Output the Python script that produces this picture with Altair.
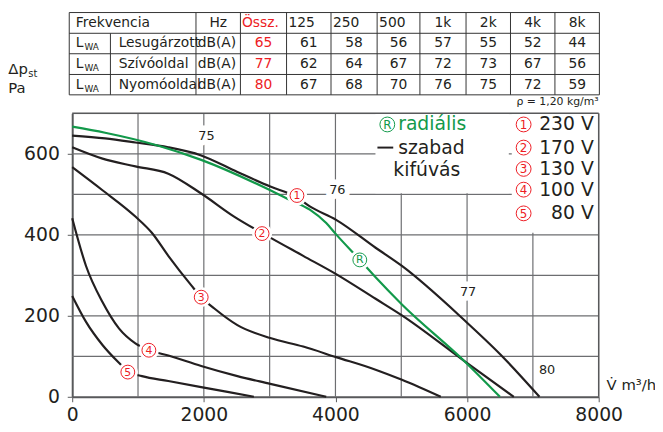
import altair as alt
import pandas as pd

FONT = "DejaVu Sans"
INK = "#231f20"
RED = "#ed1c24"
GREEN = "#12994a"
GRID = "#6d6e71"
AXIS = "#58595b"

# ---------------- data ----------------
freq_labels = ["125", "250", "500", "1k", "2k", "4k", "8k"]
row_names = ["Lesugárzott", "Szívóoldal", "Nyomóoldal"]
row_total = [65, 77, 80]
lw_lesugarzott = [61, 58, 56, 57, 55, 52, 44]
lw_szivooldal = [62, 64, 67, 72, 73, 67, 56]
lw_nyomooldal = [67, 68, 70, 76, 75, 72, 59]

c230_x = [0, 500, 960, 1460, 1960, 2510, 3010, 3400, 3610, 4010, 4610, 5010, 5960, 6510, 7100]
c230_y = [645, 638, 628, 616, 596, 555, 519, 494, 470, 437, 368, 323, 189, 104, 0]
c170_x = [0, 460, 960, 1460, 1960, 2460, 3010, 3510, 4010, 4610, 5010, 5960, 6710]
c170_y = [616, 588, 569, 551, 502, 445, 393, 348, 303, 242, 201, 88, 0]
c130_x = [0, 460, 960, 1210, 1460, 1810, 1960, 2160, 2510, 3010, 3510, 4010, 4610, 5010, 5600]
c130_y = [567, 510, 445, 405, 348, 275, 246, 218, 177, 145, 124, 98, 67, 42, 0]
c100_x = [0, 210, 460, 710, 960, 1170, 1460, 1960, 2510, 3010, 3860]
c100_y = [441, 323, 234, 169, 132, 115, 102, 76, 51, 32, 0]
c80_x = [0, 210, 460, 710, 845, 1060, 1460, 1960, 2760]
c80_y = [249, 185, 128, 84, 63, 51, 39, 24, 0]
rad_x = [0, 500, 1310, 1960, 3010, 3310, 3610, 3860, 4010, 4370, 4610, 5010, 5960, 6500]
rad_y = [667, 652, 620, 585, 510, 486, 462, 429, 401, 338, 295, 228, 88, 0]

curve_keys = ["230", "170", "130", "100", "80", "R"]
voltage_labels = ["230 V", "170 V", "130 V", "100 V", "80 V"]
circle_digits = ["1", "2", "3", "4", "5"]
circle_x = [3415, 2885, 1960, 1165, 845]
circle_y = [497, 403, 246, 115, 61]
rad_mark_x = [4370]
rad_mark_y = [338]

iso_labels = ["75", "76", "77", "80"]
iso_x = [2040, 4028, 6015, 7215]
iso_y = [643, 510, 259, 67]

x_ticks = [0, 2000, 4000, 6000, 8000]
y_ticks = [0, 200, 400, 600]
x_grid = [1000, 2000, 3000, 4000, 5000, 6000, 7000]
y_grid = [100, 200, 300, 400, 500, 600]

# ---------------- plot (data units) ----------------
W, H = 533, 287
xs = alt.Scale(domain=[0, 8000], nice=False, zero=False)
ys = alt.Scale(domain=[0, 700], nice=False, zero=False)
xaxis = alt.Axis(values=x_ticks, title=None, grid=False, labelFont=FONT, labelFontSize=19,
                 labelColor=INK, tickSize=5, tickColor=AXIS, domainColor=AXIS, domainWidth=2,
                 labelPadding=4, labelFlush=False, labelOverlap=False, format="d")
yaxis = alt.Axis(values=y_ticks, title=None, grid=False, labelFont=FONT, labelFontSize=19,
                 labelColor=INK, tickSize=5, tickColor=AXIS, domainColor=AXIS, domainWidth=2,
                 labelPadding=8, labelOverlap=False, format="d")
X = alt.X("x:Q", scale=xs, axis=xaxis)
Y = alt.Y("y:Q", scale=ys, axis=yaxis)

gv = pd.DataFrame({"x": x_grid, "y": [0] * len(x_grid), "y2": [700] * len(x_grid)})
gh = pd.DataFrame({"y": y_grid, "x": [0] * len(y_grid), "x2": [8000] * len(y_grid)})
grid_v = alt.Chart(gv).mark_rule(color=GRID, strokeWidth=1.2).encode(x=X, y=Y, y2="y2:Q")
grid_h = alt.Chart(gh).mark_rule(color=GRID, strokeWidth=1.2).encode(y=Y, x=X, x2="x2:Q")

rows = []
for key, xx, yy in zip(curve_keys,
                       [c230_x, c170_x, c130_x, c100_x, c80_x, rad_x],
                       [c230_y, c170_y, c130_y, c100_y, c80_y, rad_y]):
    for i, (a, b) in enumerate(zip(xx, yy)):
        rows.append({"x": a, "y": b, "k": key, "o": i})
curves_df = pd.DataFrame(rows)
curves = alt.Chart(curves_df).mark_line(interpolate="monotone", strokeWidth=2.2).encode(
    x=X, y=Y, detail="k:N", order="o:Q",
    color=alt.Color("k:N", scale=alt.Scale(domain=curve_keys,
                                            range=[INK, INK, INK, INK, INK, GREEN]), legend=None))

iso_df = pd.DataFrame({"x": iso_x, "y": iso_y, "t": iso_labels})
iso_halo = alt.Chart(iso_df).mark_text(font=FONT, fontSize=13, color="white", stroke="white",
                                       strokeWidth=11, strokeJoin="round").encode(x=X, y=Y, text="t:N")
iso_text = alt.Chart(iso_df).mark_text(font=FONT, fontSize=13, color=INK).encode(x=X, y=Y, text="t:N")

cm_df = pd.DataFrame({"x": circle_x, "y": circle_y, "t": circle_digits})
rm_df = pd.DataFrame({"x": rad_mark_x, "y": rad_mark_y, "t": ["R"]})
cm_halo = alt.Chart(pd.concat([cm_df, rm_df])).mark_point(shape="circle", filled=True, color="white",
                                                          opacity=1, size=420).encode(x=X, y=Y)
cm_ring = alt.Chart(cm_df).mark_point(shape="circle", fill="white", stroke=RED, strokeWidth=1,
                                      size=196, opacity=1, fillOpacity=1).encode(x=X, y=Y)
cm_text = alt.Chart(cm_df).mark_text(font=FONT, fontSize=11, color=RED, baseline="middle",
                                     dy=0.5).encode(x=X, y=Y, text="t:N")
rm_ring = alt.Chart(rm_df).mark_point(shape="circle", fill="white", stroke=GREEN, strokeWidth=1,
                                      size=196, opacity=1, fillOpacity=1).encode(x=X, y=Y)
rm_text = alt.Chart(rm_df).mark_text(font=FONT, fontSize=11, color=GREEN, baseline="middle",
                                     dy=0.5).encode(x=X, y=Y, text="t:N")

plot = alt.layer(grid_v, grid_h, iso_halo, iso_text, curves, cm_halo, cm_ring, cm_text,
                 rm_ring, rm_text)

# ---------------- overlay (pixel layout relative to plot origin) ----------------
PX = alt.X("px:Q", scale=alt.Scale(domain=[0, W], range=[0, W], nice=False, zero=False), axis=None)
PY = alt.Y("py:Q", scale=alt.Scale(domain=[0, H], range=[0, H], nice=False, zero=False), axis=None)

masks_df = pd.DataFrame({"px": [307, 445], "px2": [442, W], "py": [0, 0], "py2": [81, 121]})
masks = alt.Chart(masks_df).mark_rect(color="white").encode(x=PX, x2="px2:Q", y=PY, y2="py2:Q")

frame_df = pd.DataFrame({"px": [0, W], "px2": [W, W], "py": [0, 0], "py2": [0, H]})
frame = alt.Chart(frame_df).mark_rule(color=AXIS, strokeWidth=1.5).encode(
    x=PX, x2="px2:Q", y=PY, y2="py2:Q")

col_edges = [-3, 38.7, 125.3, 170.3, 217, 262, 308.7, 352, 398.7, 443.7, 488.7, 533.7]
row_edges = [-102, -81, -60.3, -39.3, -18.7]
row_c = [(row_edges[i] + row_edges[i + 1]) / 2 for i in range(4)]
col_c = [(col_edges[i] + col_edges[i + 1]) / 2 for i in range(len(col_edges) - 1)]

tl = []
for ry in row_edges:
    tl.append({"px": col_edges[0], "px2": col_edges[-1], "py": ry, "py2": ry})
for i, cx in enumerate(col_edges):
    top = row_edges[1] if i == 1 else row_edges[0]
    tl.append({"px": cx, "px2": cx, "py": top, "py2": row_edges[-1]})
table_lines = alt.Chart(pd.DataFrame(tl)).mark_rule(color="#333333", strokeWidth=1).encode(
    x=PX, x2="px2:Q", y=PY, y2="py2:Q")

left_cells = []
center_cells = []
left_cells.append({"px": 3.7, "py": row_c[0], "t": "Frekvencia", "c": INK, "s": 14})
center_cells.append({"px": col_c[2], "py": row_c[0], "t": "Hz", "c": INK, "s": 14})
left_cells.append({"px": col_edges[3] + 1.5, "py": row_c[0], "t": "Össz.", "c": RED, "s": 14})
for j, f in enumerate(freq_labels):
    if j < 3:
        left_cells.append({"px": col_edges[4 + j] + 2, "py": row_c[0], "t": f, "c": INK, "s": 14})
    else:
        center_cells.append({"px": col_c[4 + j], "py": row_c[0], "t": f, "c": INK, "s": 14})
for r, (name, tot, vals) in enumerate(zip(row_names, row_total,
                                          [lw_lesugarzott, lw_szivooldal, lw_nyomooldal])):
    yy = row_c[r + 1]
    left_cells.append({"px": 3.7, "py": yy, "t": "L", "c": INK, "s": 14})
    left_cells.append({"px": 12.5, "py": yy + 4, "t": "WA", "c": INK, "s": 9})
    left_cells.append({"px": 47, "py": yy, "t": name, "c": INK, "s": 14})
    left_cells.append({"px": 127, "py": yy, "t": "dB(A)", "c": INK, "s": 14})
    center_cells.append({"px": col_c[3], "py": yy, "t": str(tot), "c": RED, "s": 14})
    for j, v in enumerate(vals):
        center_cells.append({"px": col_c[4 + j], "py": yy, "t": str(v), "c": INK, "s": 14})

# legend & titles
vy = [11.3, 34.7, 56.3, 77.3, 101.3]
right_cells = [{"px": 528, "py": yy, "t": lab, "c": INK, "s": 19} for lab, yy in zip(voltage_labels, vy)]
right_cells.append({"px": W, "py": -11, "t": "ρ = 1,20 kg/m³", "c": INK, "s": 11})
left_cells.append({"px": 330, "py": 11.3, "t": "radiális", "c": GREEN, "s": 19})
left_cells.append({"px": 330, "py": 34.7, "t": "szabad", "c": INK, "s": 19})
center_cells.append({"px": 359, "py": 57.5, "t": "kifúvás", "c": INK, "s": 19})
left_cells.append({"px": 541, "py": 275, "t": "V\u0307 m³/h", "c": INK, "s": 15})

base_cells = [
    {"px": -64.7, "py": -40, "t": "Δp", "c": INK, "s": 15},
    {"px": -44.5, "py": -36.5, "t": "st", "c": INK, "s": 10},
    {"px": -64.7, "py": -21, "t": "Pa", "c": INK, "s": 15},
]


def text_layer(cells, align, baseline="middle"):
    return alt.Chart(pd.DataFrame(cells)).mark_text(font=FONT, align=align, baseline=baseline).encode(
        x=PX, y=PY, text="t:N",
        color=alt.Color("c:N", scale=None),
        size=alt.Size("s:Q", scale=None))


t_left = text_layer(left_cells, "left")
t_center = text_layer(center_cells, "center")
t_right = text_layer(right_cells, "right")
t_base = text_layer(base_cells, "left", "alphabetic")

dash_df = pd.DataFrame({"px": [309], "px2": [325], "py": [34.7]})
dash = alt.Chart(dash_df).mark_rule(color=INK, strokeWidth=2).encode(x=PX, x2="px2:Q", y=PY)

leg_df = pd.DataFrame({"px": [457] * 5, "py": vy, "t": circle_digits})
leg_ring = alt.Chart(leg_df).mark_point(shape="circle", fill="white", stroke=RED, strokeWidth=1,
                                        size=225, opacity=1, fillOpacity=1).encode(x=PX, y=PY)
leg_num = alt.Chart(leg_df).mark_text(font=FONT, fontSize=12, color=RED, baseline="middle",
                                      dy=0.5).encode(x=PX, y=PY, text="t:N")
rleg_df = pd.DataFrame({"px": [319], "py": [11.3], "t": ["R"]})
rleg_ring = alt.Chart(rleg_df).mark_point(shape="circle", fill="white", stroke=GREEN, strokeWidth=1,
                                          size=225, opacity=1, fillOpacity=1).encode(x=PX, y=PY)
rleg_num = alt.Chart(rleg_df).mark_text(font=FONT, fontSize=12, color=GREEN, baseline="middle",
                                        dy=0.5).encode(x=PX, y=PY, text="t:N")

overlay = alt.layer(masks, frame, table_lines, t_left, t_center, t_right, t_base, dash,
                    leg_ring, leg_num, rleg_ring, rleg_num)

chart = alt.layer(plot, overlay).resolve_scale(x="independent", y="independent", color="independent",
                                                size="independent").properties(
    width=W, height=H,
    padding={"left": 65, "top": 104, "right": 57, "bottom": 30},
    autosize=alt.AutoSizeParams(type="none"),
).configure_view(stroke=None).configure(font=FONT, background="white")

chart.save("out.html", embed_options={"renderer": "svg", "actions": False})
